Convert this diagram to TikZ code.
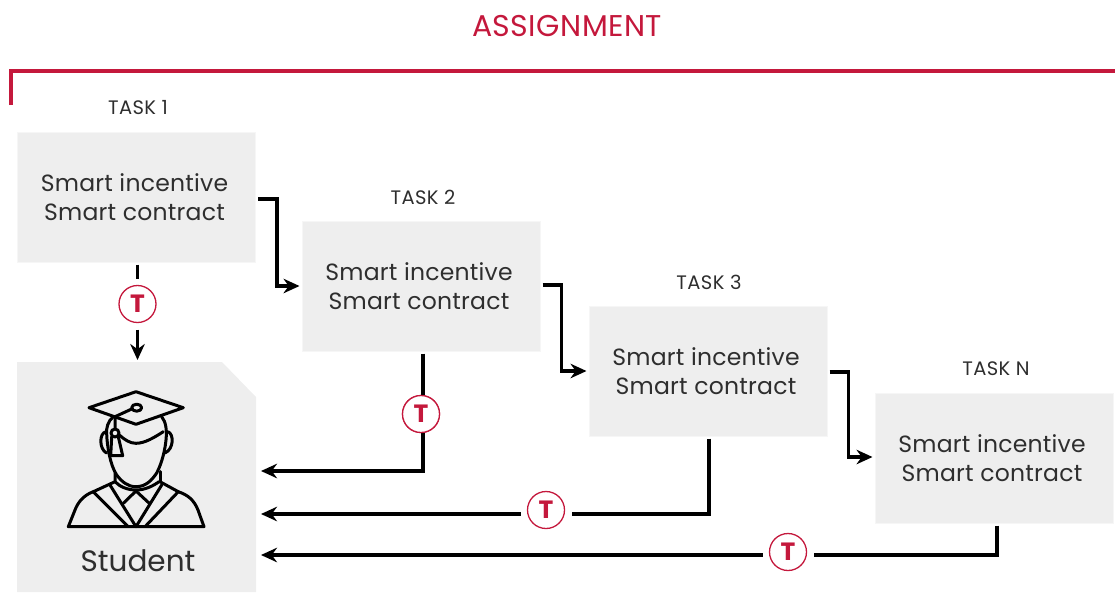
\documentclass[tikz,border=0pt]{standalone}
\usepackage{fontspec}
\setmainfont{Poppins}
\usetikzlibrary{arrows.meta,calc}
\definecolor{crim}{HTML}{C4183C}
\definecolor{boxg}{HTML}{EEEEEE}
\definecolor{edgeg}{HTML}{F6F6F6}
\definecolor{txt}{HTML}{2E2E2E}
\newcommand{\smartbody}{\raisebox{-1pt}{Smart incentive\hspace{4pt}}\\\raisebox{-1pt}{Smart contract\hspace{4pt}}}
\tikzset{
 taskbox/.style={draw=edgeg,line width=1pt,fill=boxg,minimum width=238pt,minimum height=130pt,inner sep=0pt,outer sep=2.5pt,align=center,text=txt,font=\fontsize{23.5}{29}\selectfont\addfontfeature{LetterSpace=1}},
 tasklabel/.style={text=txt,font=\fontsize{19.5}{20}\selectfont\addfontfeature{LetterSpace=2},inner sep=0pt},
 tokennode/.style={circle,draw=crim,line width=1.3pt,fill=white,minimum size=37pt,inner sep=0pt,outer sep=7pt,text=crim,font=\fontsize{25}{25}\selectfont\bfseries},
 flow/.style={line width=3.3pt,black},
 flowa/.style={flow,-{Stealth[length=16pt,width=14.5pt]}},
 icon/.style={line width=3pt,black,line join=round,line cap=round}
}
\begin{document}
\begin{tikzpicture}[x=1pt,y=-1pt]
\useasboundingbox (0,0) rectangle (1115,592);
\node[text=crim,font=\fontsize{30}{32}\selectfont\addfontfeature{LetterSpace=1.5},inner sep=0pt] (title) at (567,26) {ASSIGNMENT};
\coordinate (bs) at (11,105);
\coordinate (bc) at (11,71);
\coordinate (be) at (1115,71);
\draw[crim,line width=3.6pt] (bs) -- (bc) -- (be);

\node[taskbox] (b1) at (136.5,197) {\smartbody};
\node[taskbox] (b2) at (421,286) {\smartbody};
\node[taskbox] (b3) at (708,371) {\smartbody};
\node[taskbox] (b4) at (994,458) {\smartbody};
\node[tasklabel] (l1) at (138,108) {TASK 1};
\node[tasklabel] (l2) at (423,197) {TASK 2};
\node[tasklabel] (l3) at (709,282) {TASK 3};
\node[tasklabel] (l4) at (996,369) {TASK N};

\fill[boxg] (17,362) -- (222,362) -- (256,397) -- (256,592) -- (17,592) -- cycle;
\node[inner sep=0pt,text=txt,font=\fontsize{29.5}{32}\selectfont] (student) at (138,561) {Student};
\coordinate (studtop) at (137.5,360);
\coordinate (s2) at (261,471);
\coordinate (s3) at (261,514);
\coordinate (s4) at (261,555);

\node[tokennode] (t1) at (137.5,304) {T};
\node[tokennode] (t2) at (421,414) {T};
\node[tokennode] (t3) at (546,510) {T};
\node[tokennode] (t4) at (788,552) {T};

\draw[flowa] ([yshift=-2pt]b1.east) -- ++(19,0) |- (b2.west);
\draw[flowa] ([yshift=1pt]b2.east) -- ++(19,0) |- (b3.west);
\draw[flowa] ([yshift=-1pt]b3.east) -- ++(19,0) |- ([yshift=1pt]b4.west);

\draw[flow] ([xshift=1pt]b1.south) -- (t1.north);
\draw[flowa] (t1.south) -- (studtop);

\draw[flowa] ([xshift=2pt]b2.south) |- (s2);
\draw[flow] ([xshift=1pt]b3.south) |- (t3.east |- s3);
\draw[flowa] (t3.west |- s3) -- (s3);
\draw[flow] ([xshift=3pt]b4.south) |- (t4.east |- s4);
\draw[flowa] (t4.west |- s4) -- (s4);
\node[tokennode] at (t2) {T};

% graduate icon
\begin{scope}[icon]
\draw (136,391.7) -- (183.3,407.7) -- (136,424.3) -- (89,407.7) -- cycle;
\draw (136.7,407.7) ellipse (5 and 3.5);
\draw (131.7,409) -- (115,416.7) -- (115,428);
\draw (115,433) circle (4);
\draw (111.7,436.7) -- (110.7,455.7) -- (122.7,455.7) -- (118.3,436.7);
\draw (119.3,435) .. controls (125,440) and (130,443.3) .. (136,443.3) .. controls (145,443.3) and (155,437) .. (163.3,431.7);
\draw (113,417) .. controls (108,421) and (106,428) .. (106.7,434) .. controls (107,445) and (110,465) .. (116.7,475) .. controls (122,482) and (128,486.7) .. (136,486.7) .. controls (146,486.7) and (152,480) .. (156.7,473) .. controls (162,463) and (165,450) .. (166,440) .. controls (167,430) and (166,422) .. (161.7,416.7);
\draw (106,431.7) .. controls (99,433) and (99,449) .. (106.5,453);
\draw (168,431.7) .. controls (174,434) and (174,449) .. (165,453);
\draw (115,473) -- (115,481.7) .. controls (120,487) and (128,490) .. (136,490) .. controls (145,490) and (153,486) .. (159,481.7);
\draw (160,471.7) -- (160,481.7);
\draw (115,481.7) -- (93.3,491.7) .. controls (84,495) and (78,502) .. (75,510) -- (68.3,526.7) -- (204,526.7) -- (198,510) .. controls (194,500) and (188,495) .. (178.3,491.7) -- (160,481.7);
\draw (93.3,491.7) -- (128.3,526.7);
\draw (110,485) -- (136,526.7) -- (161.7,485);
\draw (178.3,491.7) -- (145,526.7);
\draw (123.3,503.3) -- (136,491) -- (149.3,503.3);
\end{scope}
\end{tikzpicture}
\end{document}
